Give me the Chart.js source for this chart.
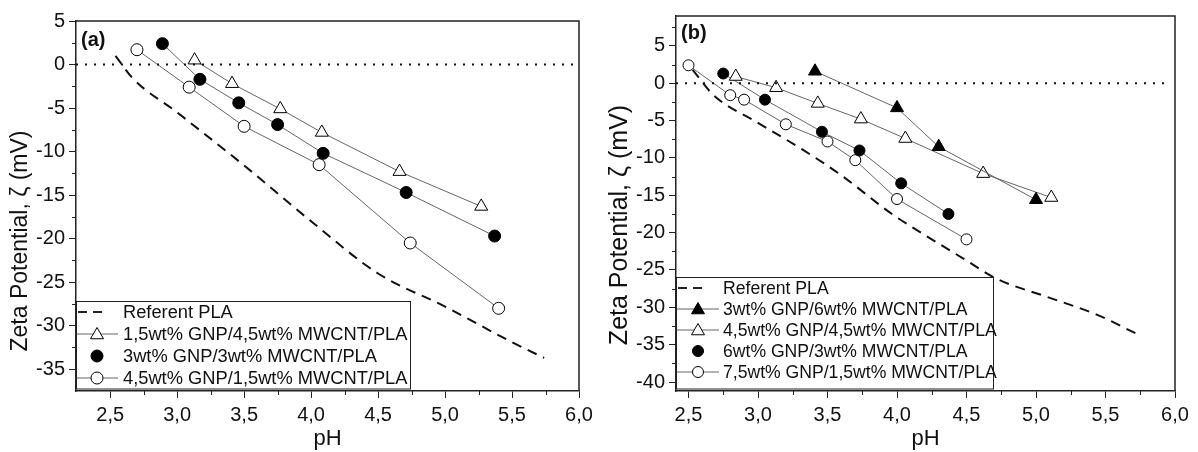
<!DOCTYPE html>
<html>
<head>
<meta charset="utf-8">
<script src="https://cdn.jsdelivr.net/npm/chart.js@4.4.1/dist/chart.umd.min.js"></script>
<style>
    body { margin: 0; background: #fff; }
    .panel { position: absolute; top: 0; }
</style>
</head>
<body>
<div class="panel" style="left:0"><canvas id="chartA" width="600" height="452"></canvas></div>
<div class="panel" style="left:600px"><canvas id="chartB" width="598" height="452"></canvas></div>
<script>
// panel (a)
const namesA = ["Referent PLA", "1,5wt% GNP/4,5wt% MWCNT/PLA", "3wt% GNP/3wt% MWCNT/PLA", "4,5wt% GNP/1,5wt% MWCNT/PLA"];
const refPhA = [2.54, 2.67, 3.0, 3.5, 4.0, 4.5, 5.0, 5.5, 5.74];
const refZetaA = [1.0, -1.6, -5.5, -11.6, -18.0, -24.0, -27.8, -31.9, -33.7];
const phA1 = [3.13, 3.41, 3.77, 4.08, 4.66, 5.27];
const zetaA1 = [0.5, -2.2, -5.1, -7.8, -12.3, -16.3];
const phA2 = [2.89, 3.17, 3.46, 3.75, 4.09, 4.71, 5.37];
const zetaA2 = [2.4, -1.7, -4.4, -6.9, -10.2, -14.7, -19.7];
const phA3 = [2.70, 3.09, 3.50, 4.06, 4.74, 5.40];
const zetaA3 = [1.7, -2.6, -7.1, -11.5, -20.5, -28.0];

// panel (b)
const namesB = ["Referent PLA", "3wt% GNP/6wt% MWCNT/PLA", "4,5wt% GNP/4,5wt% MWCNT/PLA", "6wt% GNP/3wt% MWCNT/PLA", "7,5wt% GNP/1,5wt% MWCNT/PLA"];
const refPhB = [2.53, 2.68, 3.0, 3.33, 3.59, 3.97, 4.12, 4.48, 4.72, 5.08, 5.44, 5.73];
const refZetaB = [1.8, -1.6, -5.3, -9.0, -12.2, -17.6, -19.4, -23.5, -26.2, -28.6, -31.0, -33.6];
const phB1 = [3.41, 4.0, 4.30, 5.0];
const zetaB1 = [1.6, -3.3, -8.5, -15.6];
const phB2 = [2.84, 3.13, 3.43, 3.74, 4.06, 4.62, 5.11];
const zetaB2 = [0.9, -0.6, -2.7, -4.8, -7.4, -12.1, -15.3];
const phB3 = [2.75, 3.05, 3.46, 3.73, 4.03, 4.37];
const zetaB3 = [1.3, -2.2, -6.5, -9.0, -13.4, -17.5];
const phB4 = [2.50, 2.80, 2.90, 3.20, 3.50, 3.70, 4.0, 4.5];
const zetaB4 = [2.4, -1.6, -2.2, -5.5, -7.8, -10.3, -15.5, -20.9];

const FONT = "'Liberation Sans', Arial, sans-serif";
const INK = "#111";

function pts(xs, ys) {
    return xs.map((x, i) => ({x: x, y: ys[i]}));
}

function markerSet(xs, ys, shape, filled, r) {
    return {
        data: pts(xs, ys),
        borderColor: "#555",
        borderWidth: 0.9,
        pointStyle: shape,
        pointRadius: r,
        pointBackgroundColor: filled ? "#000" : "#fff",
        pointBorderColor: "#000",
        pointBorderWidth: 1,
        tension: 0
    };
}

function drawMarker(ctx, shape, filled, x, y, r) {
    ctx.beginPath();
    if (shape == "triangle") {
        for (let k = 0; k < 3; k++) {
            let a = k * 2 * Math.PI / 3;
            ctx.lineTo(x + Math.sin(a) * r, y - Math.cos(a) * r);
        }
        ctx.closePath();
    } else {
        ctx.arc(x, y, r, 0, 2 * Math.PI);
    }
    ctx.fillStyle = filled ? "#000" : "#fff";
    ctx.fill();
    ctx.strokeStyle = "#000";
    ctx.lineWidth = 1;
    ctx.stroke();
}

// frame, minor ticks, panel letter, y title and legend box
function decor(opt) {
    return {
        id: "decor",
        afterDatasetsDraw(chart) {
            const ctx = chart.ctx;
            const a = chart.chartArea;
            const xs = chart.scales.x, ys = chart.scales.y;
            ctx.save();

            // legend
            const lg = opt.legend;
            ctx.fillStyle = "#fff";
            ctx.fillRect(a.left, lg.top, lg.right - a.left, a.bottom - lg.top - 2);
            ctx.strokeStyle = "#222";
            ctx.lineWidth = 1;
            ctx.strokeRect(a.left + 0.5, lg.top + 0.5, lg.right - a.left, a.bottom - lg.top - 2.5);
            ctx.font = lg.size + "px " + FONT;
            ctx.textBaseline = "middle";
            lg.rows.forEach((row, i) => {
                const y = lg.rowY[i];
                ctx.strokeStyle = "#222";
                if (row.shape == null) {
                    ctx.lineWidth = 2;
                    ctx.setLineDash([9, 6]);
                    ctx.beginPath();
                    ctx.moveTo(a.left + 2, y);
                    ctx.lineTo(a.left + 26, y);
                    ctx.stroke();
                    ctx.setLineDash([]);
                } else {
                    if (row.line) {
                        ctx.lineWidth = 0.9;
                        ctx.strokeStyle = "#555";
                        ctx.beginPath();
                        ctx.moveTo(a.left + 1, y);
                        ctx.lineTo(lg.markX + 21, y);
                        ctx.stroke();
                    }
                    drawMarker(ctx, row.shape, row.filled, lg.markX, y + (row.shape == "triangle" ? 1 : 0), row.r);
                }
                ctx.fillStyle = INK;
                ctx.textAlign = "left";
                ctx.fillText(row.name, lg.textX, y + 1);
            });

            // frame
            ctx.strokeStyle = "#222";
            ctx.lineWidth = 1.5;
            ctx.beginPath();
            ctx.moveTo(a.left, a.top);
            ctx.lineTo(a.right, a.top);
            ctx.lineTo(a.right, a.bottom);
            ctx.stroke();

            // minor ticks
            ctx.lineWidth = 1;
            ctx.beginPath();
            opt.minorX.forEach(v => {
                const px = Math.round(xs.getPixelForValue(v)) + 0.5;
                ctx.moveTo(px, a.bottom);
                ctx.lineTo(px, a.bottom + 4);
            });
            opt.minorY.forEach(v => {
                const py = Math.round(ys.getPixelForValue(v)) + 0.5;
                ctx.moveTo(a.left, py);
                ctx.lineTo(a.left - 4, py);
            });
            ctx.stroke();

            // panel letter
            ctx.fillStyle = INK;
            ctx.font = "bold 20px " + FONT;
            ctx.textAlign = "left";
            ctx.textBaseline = "middle";
            ctx.fillText(opt.letter, a.left + 5, opt.letterY);

            // y title
            ctx.font = opt.titleSize + "px " + FONT;
            ctx.translate(opt.titleX, opt.titleY);
            ctx.rotate(-Math.PI / 2);
            ctx.textAlign = "center";
            ctx.fillText("Zeta Potential, \u03B6 (mV)", 0, 0);
            ctx.restore();
        }
    };
}

function axisX(min, max) {
    return {
        type: "linear",
        min: min,
        max: max,
        border: {display: true, color: "#222", width: 1.5},
        grid: {drawOnChartArea: false, tickLength: 7, color: "#222"},
        ticks: {
            stepSize: 0.5,
            includeBounds: false,
            padding: 5,
            color: INK,
            font: {family: FONT, size: 20},
            callback: v => v.toFixed(1).replace(".", ",")
        },
        title: {display: true, text: "pH", color: INK, font: {family: FONT, size: 22}, padding: {top: 0, bottom: 0}},
        afterFit: s => { s.height = 61; }
    };
}

function axisY(min, max, w) {
    return {
        type: "linear",
        min: min,
        max: max,
        border: {display: true, color: "#222", width: 1.5},
        grid: {drawOnChartArea: false, tickLength: 7, color: "#222"},
        ticks: {
            stepSize: 5,
            includeBounds: false,
            padding: 4,
            color: INK,
            font: {family: FONT, size: 20}
        },
        afterFit: s => { s.width = w; }
    };
}

function zeroLine(xmin, xmax) {
    return {
        data: [{x: xmin, y: 0}, {x: xmax, y: 0}],
        borderColor: "#111",
        borderWidth: 2,
        borderDash: [2, 7],
        pointRadius: 0
    };
}

function refLine(xs, ys) {
    return {
        data: pts(xs, ys),
        borderColor: "#111",
        borderWidth: 2,
        borderDash: [10, 7],
        pointRadius: 0,
        cubicInterpolationMode: "monotone"
    };
}

function makeChart(id, datasets, scales, padding, plugin) {
    return new Chart(document.getElementById(id), {
        type: "line",
        data: {datasets: datasets},
        options: {
            responsive: false,
            animation: false,
            layout: {padding: padding},
            plugins: {legend: {display: false}, tooltip: {enabled: false}},
            scales: scales
        },
        plugins: [plugin]
    });
}

makeChart("chartA",
    [
        zeroLine(2.245, 6.0),
        refLine(refPhA, refZetaA),
        markerSet(phA1, zetaA1, "triangle", false, 7.5),
        markerSet(phA2, zetaA2, "circle", true, 6),
        markerSet(phA3, zetaA3, "circle", false, 6)
    ],
    {x: axisX(2.245, 6.0), y: axisY(-37.5, 5, 76)},
    {top: 21, right: 21, left: 0, bottom: 0},
    decor({
        letter: "(a)", letterY: 40,
        titleX: 21, titleY: 241, titleSize: 23,
        minorX: [2.75, 3.25, 3.75, 4.25, 4.75, 5.25, 5.75],
        minorY: [2.5, -2.5, -7.5, -12.5, -17.5, -22.5, -27.5, -32.5],
        legend: {
            top: 301, right: 410, size: 18.3, markX: 97, textX: 123,
            rowY: [312, 334, 356, 378],
            rows: [
                {name: namesA[0], shape: null},
                {name: namesA[1], shape: "triangle", filled: false, r: 7.5, line: true},
                {name: namesA[2], shape: "circle", filled: true, r: 6, line: false},
                {name: namesA[3], shape: "circle", filled: false, r: 6, line: true}
            ]
        }
    })
);

makeChart("chartB",
    [
        zeroLine(2.41, 5.97),
        refLine(refPhB, refZetaB),
        markerSet(phB1, zetaB1, "triangle", true, 7.5),
        markerSet(phB2, zetaB2, "triangle", false, 7.5),
        markerSet(phB3, zetaB3, "circle", true, 5.5),
        markerSet(phB4, zetaB4, "circle", false, 5.5)
    ],
    {x: axisX(2.41, 6.0), y: axisY(-41.2, 9, 76)},
    {top: 14, right: 23, left: 0, bottom: 0},
    decor({
        letter: "(b)", letterY: 33,
        titleX: 20, titleY: 225, titleSize: 25,
        minorX: [2.75, 3.25, 3.75, 4.25, 4.75, 5.25, 5.75],
        minorY: [7.5, 2.5, -2.5, -7.5, -12.5, -17.5, -22.5, -27.5, -32.5, -37.5],
        legend: {
            top: 277, right: 993 - 600, size: 17.6, markX: 98, textX: 123,
            rowY: [288, 309, 330, 351, 372],
            rows: [
                {name: namesB[0], shape: null},
                {name: namesB[1], shape: "triangle", filled: true, r: 7.5, line: true},
                {name: namesB[2], shape: "triangle", filled: false, r: 7.5, line: true},
                {name: namesB[3], shape: "circle", filled: true, r: 5.5, line: false},
                {name: namesB[4], shape: "circle", filled: false, r: 5.5, line: true}
            ]
        }
    })
);
</script>
</body>
</html>
